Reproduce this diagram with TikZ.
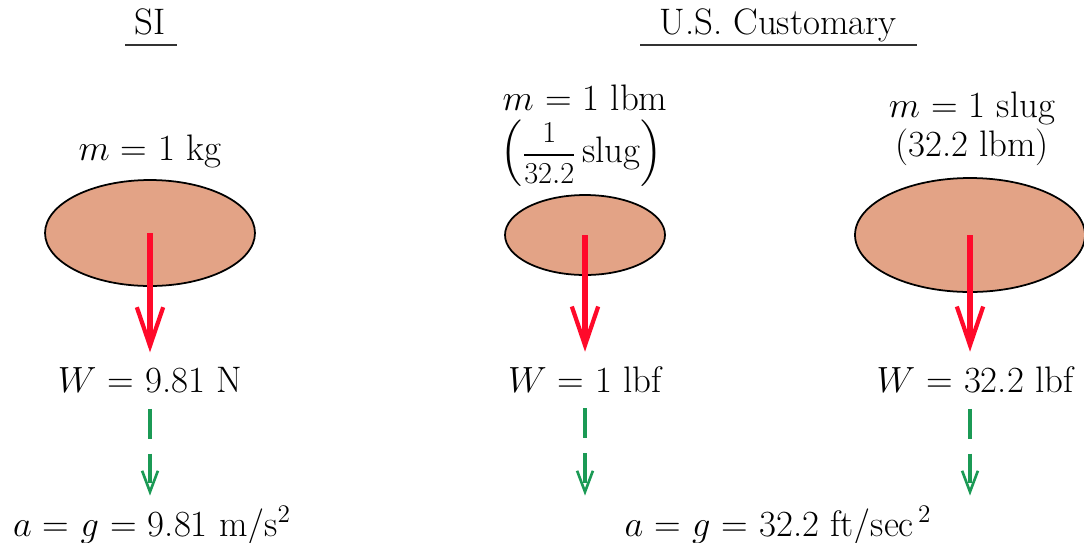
\documentclass[tikz,border=0pt]{standalone}
\usepackage{amsmath,amssymb}
\usepackage{xcolor}
\usepackage{tikz}
\usetikzlibrary{arrows.meta,positioning,shapes.geometric,calc}
\definecolor{massFill}{HTML}{E3A386}
\definecolor{wRed}{HTML}{FF0A2A}
\definecolor{aGreen}{HTML}{1B9A55}

\begin{document}
\begin{tikzpicture}[
  x=0.02cm, y=-0.02cm,
  font=\fontsize{21}{25}\selectfont,
  mass/.style={draw, ellipse, line width=1pt, fill=massFill, inner sep=0pt},
  lab/.style={anchor=base, inner sep=2pt},
  rule/.style={line width=1pt, black!80},
  weight/.style={wRed, line width=3.4pt, -{Straight Barb[length=22pt,width=15pt,line width=2.4pt]}},
  accel/.style={aGreen, line width=1.8pt, dash pattern=on 17pt off 8.5pt, -{Straight Barb[length=12pt,width=9pt,line width=1.5pt]}}
]
\useasboundingbox (0,0) rectangle (1084,542);

% headings
\node[lab] (si) at (150,34) {SI};
\node[lab] (usc) at (778,34) {U.S. Customary};
\draw[rule] ([shift={(-25,11)}]si.base) -- ([shift={(27,11)}]si.base);
\draw[rule] ([shift={(-138,11)}]usc.base) -- ([shift={(139,11)}]usc.base);

% masses
\node[lab] (m1) at (150,160) {$m$ = 1 kg};
\node[lab, inner sep=0pt] (m2) at (585,110) {$m$ = 1 lbm};
\node[below=5pt of m2, inner sep=0pt, xshift=-2pt] (m2b)
  {$\left(\vcenter{\hbox{\fontsize{17}{20}\selectfont$\dfrac{1}{32.2}$}}\,\text{slug}\right)$};
\node[anchor=north, align=center, inner sep=1pt] (m3) at (972,90)
  {$m$ = 1 slug\\[-3pt](32.2 lbm)};

\node[mass, minimum width=4.2cm, minimum height=2.12cm] (b1) at (150,233) {};
\node[mass, minimum width=3.2cm, minimum height=1.6cm] (b2) at (585,235) {};
\node[mass, minimum width=4.6cm, minimum height=2.28cm] (b3) at (970,235) {};

% weights
\node[lab] (w1) at (150,392) {$W$ = 9.81 N};
\node[lab] (w2) at (585,392) {$W$ = 1 lbf};
\node[lab] (w3) at (975,392) {$W$ = 32.2 lbf};

\draw[weight, shorten >=6pt] (b1.center) -- (b1.center |- w1.north);
\draw[weight, shorten >=6pt] (b2.center) -- (b2.center |- w2.north);
\draw[weight, shorten >=6pt] (b3.center) -- (b3.center |- w3.north);

% accelerations
\node[lab] (a1) at (152,536) {$a$ = $g$ = 9.81 m/s$^2$};
\node[lab] (a2) at (778,536) {$a$ = $g$ = 32.2 ft/sec$^{\,2}$};

\draw[accel, shorten <=7pt, shorten >=4pt] (b1.center |- w1.south) -- (b1.center |- a1.north);
\draw[accel, shorten <=7pt, shorten >=4pt] (b2.center |- w2.south) -- (b2.center |- a2.north);
\draw[accel, shorten <=7pt, shorten >=4pt] (b3.center |- w3.south) -- (b3.center |- a2.north);
\end{tikzpicture}
\end{document}
